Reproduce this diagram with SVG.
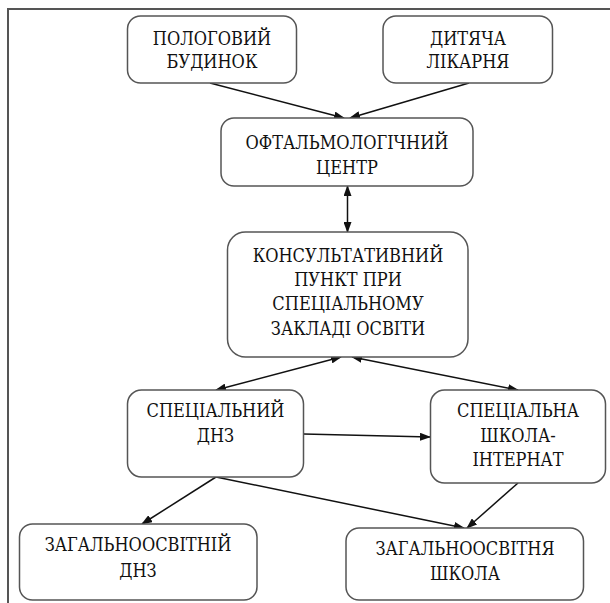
<svg xmlns="http://www.w3.org/2000/svg" width="610" height="603" viewBox="0 0 610 603">
<defs>
<style>
.box{fill:#fff;stroke:#555;stroke-width:1.5}
.t{font-family:"DejaVu Serif Condensed","DejaVu Serif",serif;font-stretch:condensed;font-size:18px;fill:#111;text-anchor:middle}
.c{stroke:#111;stroke-width:1.5;fill:none}
.frame{stroke:#555;stroke-width:2;fill:none}
</style>
<marker id="ah" markerUnits="userSpaceOnUse" markerWidth="11" markerHeight="8" refX="10" refY="4" orient="auto-start-reverse">
<path d="M0,0 L11,4 L0,8 z" fill="#111"/>
</marker>
</defs>
<rect width="610" height="603" fill="#fff"/>
<path class="frame" d="M8,603 L8,9 L610,9"/>
<g id="connectors">
<line class="c" x1="210" y1="83" x2="344" y2="118" marker-end="url(#ah)"/>
<line class="c" x1="469" y1="83" x2="350" y2="118" marker-end="url(#ah)"/>
<line class="c" x1="347.5" y1="186" x2="347.5" y2="232" marker-start="url(#ah)" marker-end="url(#ah)"/>
<line class="c" x1="341" y1="357" x2="216" y2="390" marker-start="url(#ah)" marker-end="url(#ah)"/>
<line class="c" x1="352" y1="357" x2="518" y2="390" marker-start="url(#ah)" marker-end="url(#ah)"/>
<line class="c" x1="303.5" y1="434" x2="430" y2="437" marker-end="url(#ah)"/>
<line class="c" x1="216" y1="477" x2="142" y2="524" marker-end="url(#ah)"/>
<line class="c" x1="216" y1="477" x2="464" y2="528" marker-end="url(#ah)"/>
<line class="c" x1="518" y1="483" x2="467" y2="528" marker-end="url(#ah)"/>
</g>
<g id="n-pologovyi">
<rect class="box" x="127.5" y="16" width="169" height="67" rx="13"/>
<text class="t" x="212" y="45">ПОЛОГОВИЙ</text>
<text class="t" x="212" y="68">БУДИНОК</text>
</g>
<g id="n-likarnia">
<rect class="box" x="383" y="16" width="169.5" height="67" rx="13"/>
<text class="t" x="468" y="45">ДИТЯЧА</text>
<text class="t" x="468" y="68">ЛІКАРНЯ</text>
</g>
<g id="n-oftalm">
<rect class="box" x="221" y="118" width="252" height="68" rx="13"/>
<text class="t" x="347" y="149">ОФТАЛЬМОЛОГІЧНИЙ</text>
<text class="t" x="347" y="174">ЦЕНТР</text>
</g>
<g id="n-konsult">
<rect class="box" x="227.5" y="232" width="240.5" height="125" rx="18"/>
<text class="t" x="348" y="262">КОНСУЛЬТАТИВНИЙ</text>
<text class="t" x="348" y="286">ПУНКТ ПРИ</text>
<text class="t" x="348" y="310">СПЕЦІАЛЬНОМУ</text>
<text class="t" x="348" y="335">ЗАКЛАДІ ОСВІТИ</text>
</g>
<g id="n-spec-dnz">
<rect class="box" x="127.5" y="390" width="176" height="87" rx="14"/>
<text class="t" x="215.5" y="417">СПЕЦІАЛЬНИЙ</text>
<text class="t" x="215.5" y="442">ДНЗ</text>
</g>
<g id="n-spec-shkola">
<rect class="box" x="430.5" y="390" width="175" height="93" rx="14"/>
<text class="t" x="518" y="417">СПЕЦІАЛЬНА</text>
<text class="t" x="518" y="442">ШКОЛА-</text>
<text class="t" x="518" y="466">ІНТЕРНАТ</text>
</g>
<g id="n-zag-dnz">
<rect class="box" x="19.5" y="524" width="237.5" height="76" rx="13"/>
<text class="t" x="138" y="551">ЗАГАЛЬНООСВІТНІЙ</text>
<text class="t" x="138" y="577">ДНЗ</text>
</g>
<g id="n-zag-shkola">
<rect class="box" x="346" y="528" width="237.5" height="72" rx="13"/>
<text class="t" x="465" y="555">ЗАГАЛЬНООСВІТНЯ</text>
<text class="t" x="465" y="580">ШКОЛА</text>
</g>
</svg>
